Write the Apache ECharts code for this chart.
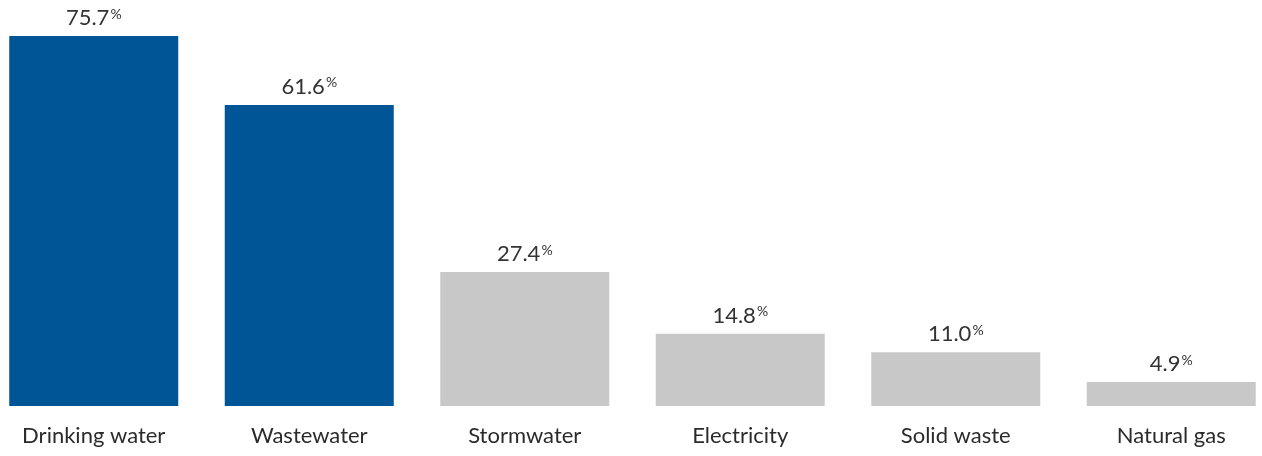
<!DOCTYPE html>
<html><head><meta charset="utf-8">
<script src="https://cdn.jsdelivr.net/npm/echarts@6/dist/echarts.min.js"></script>
<style>html,body{margin:0;padding:0;background:#fff;overflow:hidden}#c{position:absolute;left:-14px;top:0;width:1293px;height:456px}</style>
</head><body><div id="c"></div>
<script>
const categories = ["Drinking water","Wastewater","Stormwater","Electricity","Solid waste","Natural gas"];
const values = [75.7, 61.6, 27.4, 14.8, 11.0, 4.9];
const highlighted = [true, true, false, false, false, false];
const BLUE = "#005596", GRAY = "#c8c8c8";
const chart = echarts.init(document.getElementById('c'), null, {renderer:'canvas'});
chart.setOption({
  animation:false,
  grid:{left:0, right:0, top:15, bottom:50, containLabel:false},
  xAxis:{type:'category', data:categories,
    axisLine:{show:false}, axisTick:{show:false},
    axisLabel:{fontFamily:'Lato', fontSize:22, color:'#2b2b2b', margin:19, interval:0}},
  yAxis:{type:'value', min:0, max:80, show:false, splitLine:{show:false}},
  series:[{type:'bar', barWidth:169,
    data: values.map((v,i)=>({value:v, itemStyle:{color: highlighted[i]?BLUE:GRAY}})),
    label:{show:true, position:'top', distance:7,
      formatter: p => '{v|'+p.value.toFixed(1)+'}{p|%}',
      rich:{v:{fontFamily:'Lato', fontSize:22, color:'#333'},
            p:{fontFamily:'Lato', fontSize:14, color:'#333', verticalAlign:'top', padding:[0,0,7,1]}}}
  }]
});
</script></body></html>
